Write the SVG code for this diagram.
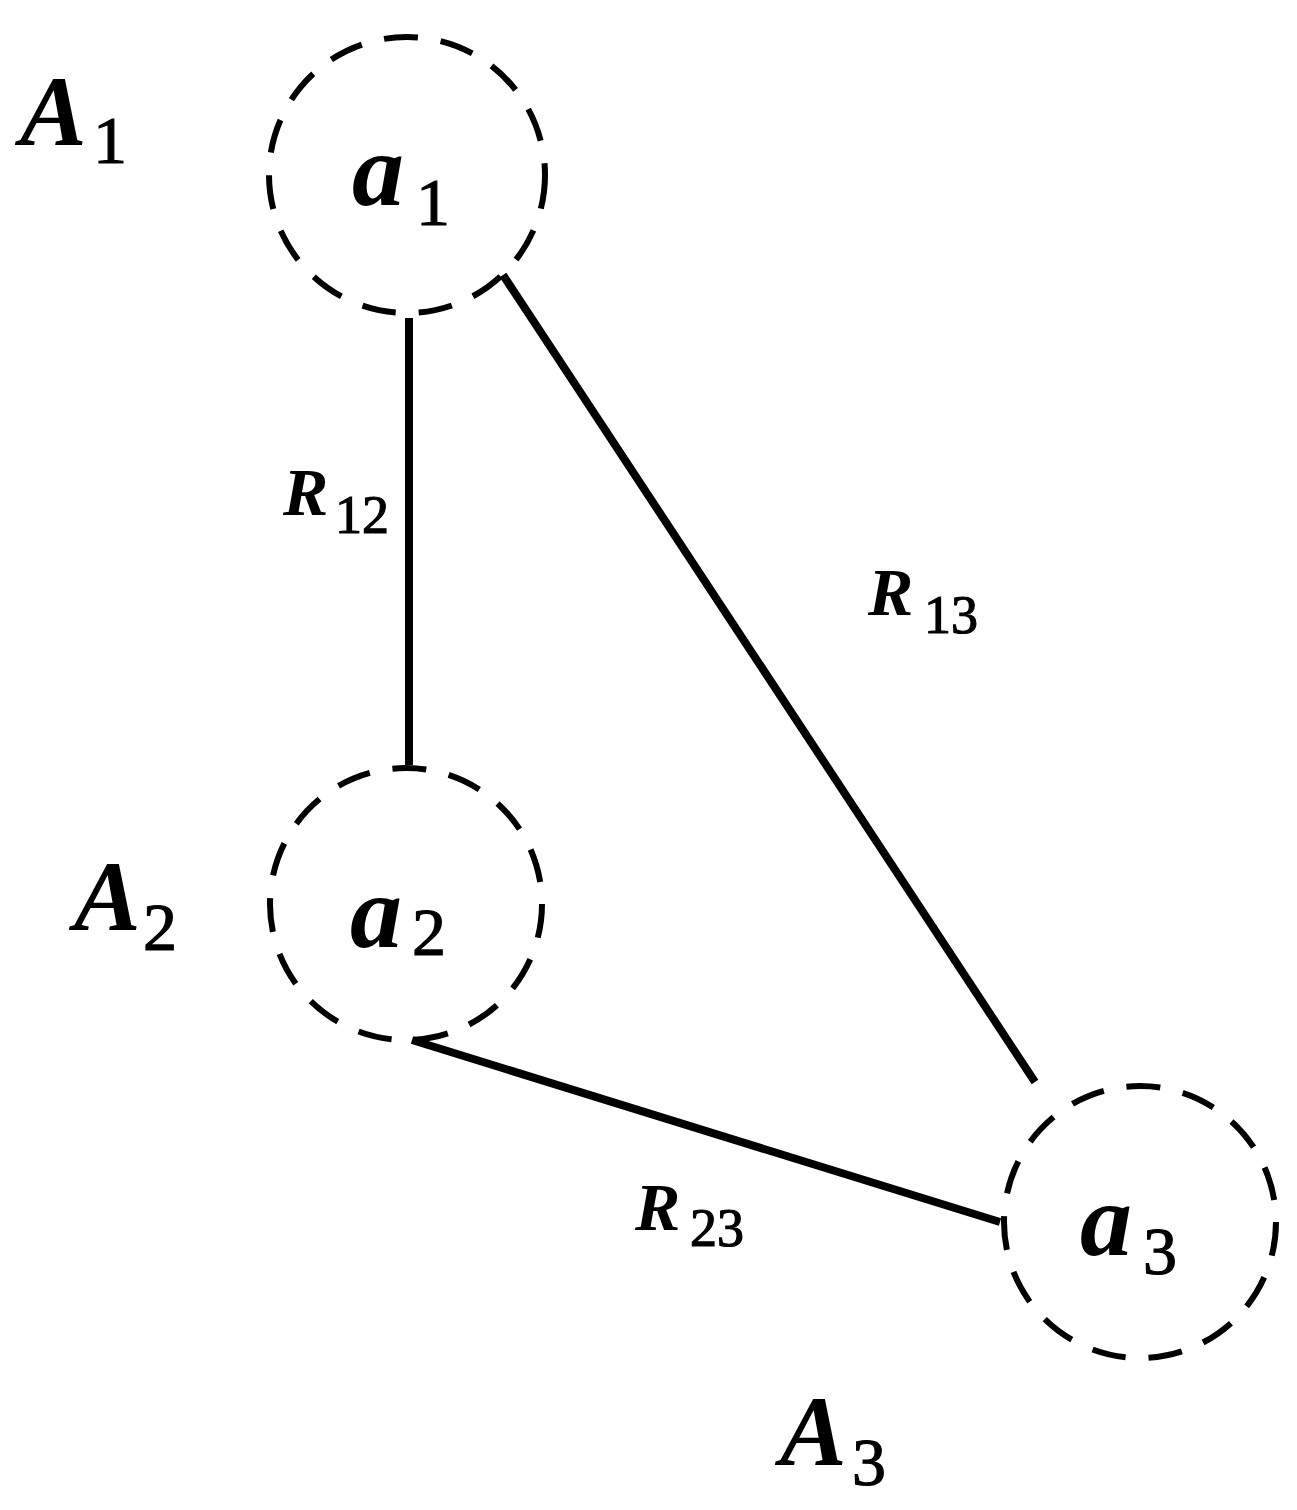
<svg xmlns="http://www.w3.org/2000/svg" width="1297" height="1510" viewBox="0 0 1297 1510">
<style>
.node{fill:none;stroke:#000;stroke-width:6;stroke-dasharray:34 23}
.edge{fill:none;stroke:#000;stroke-width:8;stroke-linecap:butt}
.t{font-family:"Liberation Serif",serif;font-style:italic;font-weight:bold;fill:#000}
.s{font-family:"Liberation Serif",serif;font-style:normal;font-weight:normal;fill:#000;stroke:#000;stroke-width:1.2}
</style>
<rect width="1297" height="1510" fill="#fff"/>
<g id="connectors">
<line class="edge" x1="409" y1="318" x2="409" y2="765"/>
<line class="edge" x1="503" y1="275" x2="1035" y2="1082"/>
<line class="edge" x1="412" y1="1040" x2="1000" y2="1222"/>
</g>
<g id="a1">
<circle class="node" cx="407" cy="175" r="138"/>
<text class="t" x="352" y="205" font-size="104">a</text><text class="s" x="416" y="225" font-size="68">1</text>
</g>
<g id="a2">
<circle class="node" cx="406" cy="904" r="136"/>
<text class="t" x="350" y="947" font-size="104">a</text><text class="s" x="412" y="955" font-size="68">2</text>
</g>
<g id="a3">
<circle class="node" cx="1140" cy="1222" r="136"/>
<text class="t" x="1080" y="1255" font-size="104">a</text><text class="s" x="1143" y="1274" font-size="68">3</text>
</g>
<g id="A1"><text class="t" x="20" y="145" font-size="100">A</text><text class="s" x="93" y="163" font-size="68">1</text></g>
<g id="A2"><text class="t" x="74" y="930" font-size="100">A</text><text class="s" x="143" y="950" font-size="68">2</text></g>
<g id="A3"><text class="t" x="780" y="1465" font-size="100">A</text><text class="s" x="852" y="1485" font-size="68">3</text></g>
<g id="labels">
<text class="t" x="283" y="515" font-size="68">R</text><text class="s" x="335" y="533" font-size="54">12</text>
<text class="t" x="868" y="615" font-size="68">R</text><text class="s" x="924" y="633" font-size="54">13</text>
<text class="t" x="635" y="1230" font-size="68">R</text><text class="s" x="690" y="1246" font-size="54">23</text>
</g>
</svg>
